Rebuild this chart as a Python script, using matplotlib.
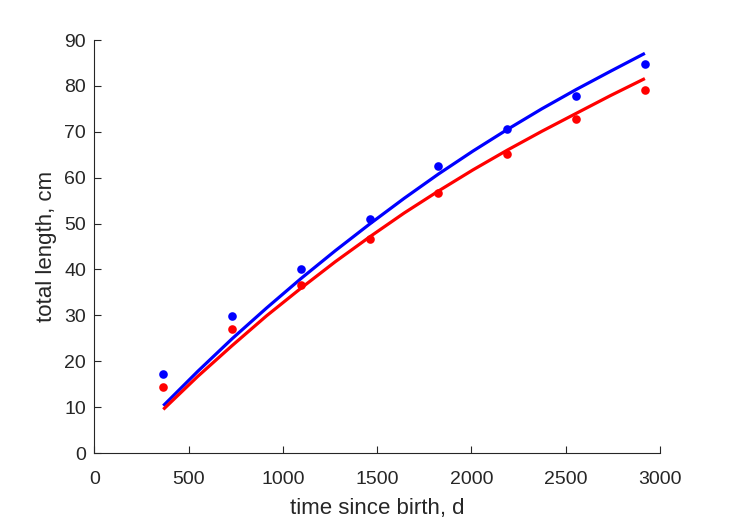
import matplotlib
matplotlib.use('Agg')
import matplotlib.pyplot as plt

# measured data, days since birth
days = [365, 730, 1095, 1460, 1825, 2190, 2555, 2920]
blue_len = [17.2, 29.9, 40.0, 51.1, 62.6, 70.6, 77.9, 84.8]
red_len = [14.3, 27.0, 36.6, 46.6, 56.6, 65.2, 72.8, 79.2]

# fitted curves
fit_days = [365, 548, 730, 913, 1095, 1278, 1460, 1643, 1825, 2008, 2190, 2373, 2555, 2738, 2920]
blue_fit = [10.3, 17.8, 24.9, 31.6, 38.0, 44.1, 49.9, 55.5, 60.8, 65.8, 70.5, 75.0, 79.2, 83.2, 87.1]
red_fit = [9.5, 16.7, 23.4, 29.9, 35.9, 41.7, 47.1, 52.3, 57.1, 61.7, 66.0, 70.1, 74.0, 77.9, 81.6]

plt.rcParams['font.family'] = ['Liberation Sans', 'DejaVu Sans']
text_color = '#262626'

fig = plt.figure(figsize=(7.29, 5.21), dpi=100)
ax = fig.add_axes([0.1296, 0.1305, 0.7757, 0.7927])

ax.plot(fit_days, blue_fit, color=(0, 0, 1), linewidth=2.3, solid_capstyle='butt')
ax.plot(fit_days, red_fit, color=(1, 0, 0), linewidth=2.3, solid_capstyle='butt')
ax.plot(days, blue_len, 'o', color=(0, 0, 1), markersize=6.2, markeredgewidth=0)
ax.plot(days, red_len, 'o', color=(1, 0, 0), markersize=6.2, markeredgewidth=0)

ax.set_xlim(0, 3000)
ax.set_ylim(0, 90)
ax.set_xticks(range(0, 3001, 500))
ax.set_yticks(range(0, 91, 10))

ax.set_xlabel('time since birth, d', fontsize=16, color=text_color, labelpad=7)
ax.set_ylabel('total length, cm', fontsize=16, color=text_color, labelpad=5)

ax.spines['top'].set_visible(False)
ax.spines['right'].set_visible(False)
for s in ['left', 'bottom']:
    ax.spines[s].set_color(text_color)
    ax.spines[s].set_linewidth(0.8)
ax.tick_params(direction='in', length=5, width=0.8, colors=text_color, labelsize=14)
ax.tick_params(axis='x', pad=13)
ax.tick_params(axis='y', pad=6)

plt.savefig('out.png', dpi=100)
plt.close()
